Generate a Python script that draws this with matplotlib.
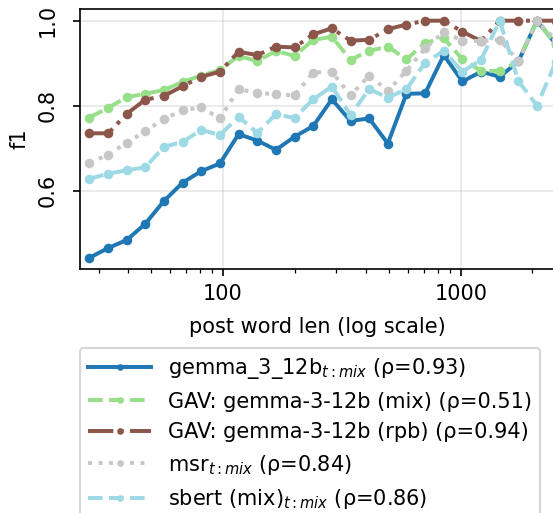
import matplotlib
matplotlib.use("Agg")
import matplotlib.pyplot as plt
from matplotlib.ticker import FuncFormatter, NullFormatter

# ---- data ----
word_len = [27.4, 32.9, 39.4, 47.1, 56.5, 67.7, 81.1, 97.1, 116.3, 139.4, 167.0, 200.0,
            239.6, 287.1, 343.9, 412.0, 493.6, 591.3, 708.4, 848.7, 1016.7, 1218, 1459,
            1748, 2094, 2509]

gemma = [0.442, 0.465, 0.484, 0.522, 0.576, 0.619, 0.646, 0.664, 0.733, 0.718, 0.696, 0.727,
         0.752, 0.815, 0.764, 0.770, 0.711, 0.828, 0.829, 0.919, 0.857, 0.880, 0.868, 0.904,
         1.0, 0.945]
gav_mix = [0.772, 0.795, 0.820, 0.828, 0.837, 0.856, 0.871, 0.884, 0.917, 0.905, 0.929, 0.917,
           0.955, 0.962, 0.908, 0.929, 0.939, 0.909, 0.948, 0.959, 0.909, 0.882, 0.882, 0.904,
           1.0, 0.945]
gav_rpb = [0.735, 0.735, 0.781, 0.814, 0.823, 0.846, 0.868, 0.880, 0.927, 0.919, 0.939, 0.937,
           0.968, 0.982, 0.953, 0.955, 0.980, 0.991, 1.0, 1.0, 0.974, 0.952, 1.0, 1.0, 1.0, 1.0]
msr = [0.665, 0.685, 0.713, 0.740, 0.769, 0.789, 0.796, 0.770, 0.839, 0.830, 0.827, 0.824,
       0.878, 0.880, 0.824, 0.871, 0.835, 0.882, 0.935, 0.973, 0.953, 0.952, 0.955, 0.905,
       1.0, 0.955]
sbert = [0.628, 0.640, 0.648, 0.655, 0.703, 0.715, 0.743, 0.731, 0.774, 0.736, 0.780, 0.771,
         0.815, 0.845, 0.778, 0.839, 0.819, 0.839, 0.901, 0.929, 0.880, 0.908, 1.0, 0.858,
         0.800, 0.903]

labels = [
    r"gemma_3_12b$_{t:mix}$ (ρ=0.93)",
    "GAV: gemma-3-12b (mix) (ρ=0.51)",
    "GAV: gemma-3-12b (rpb) (ρ=0.94)",
    r"msr$_{t:mix}$ (ρ=0.84)",
    r"sbert (mix)$_{t:mix}$ (ρ=0.86)",
]
series = [gemma, gav_mix, gav_rpb, msr, sbert]
colors = ["#1f77b4", "#98df8a", "#8c564b", "#c7c7c7", "#9edae5"]
styles = ["-", "--", "-.", ":", "--"]

yticks = [0.6, 0.8, 1.0]

# ---- figure ----
W, H, DPI = 553, 513, 150
fig = plt.figure(figsize=(W / DPI, H / DPI), dpi=DPI)
left_px, right_px, top_px, bot_px = 79.5, 554.5, 9.0, 269.3
ax = fig.add_axes([left_px / W, 1 - bot_px / H, (right_px - left_px) / W, (bot_px - top_px) / H])

for y, lab, c, ls in zip(series, labels, colors, styles):
    ax.plot(word_len, y, linestyle=ls, color=c, marker="o", markersize=3.6, linewidth=1.9, label=lab)

ax.set_xscale("log")
ax.set_xlim(24.92, 2480)
ax.xaxis.set_major_formatter(FuncFormatter(lambda v, p: f"{v:g}"))
ax.xaxis.set_minor_formatter(NullFormatter())
ax.set_ylim(0.415, 1.0275)
ax.set_yticks(yticks)
ax.set_yticklabels([f"{v:.1f}" for v in yticks], rotation=90, va="center")
ax.tick_params(axis="y", pad=7.0)
ax.grid(True, which="major", alpha=0.3)
ax.set_xlabel("post word len (log scale)", labelpad=6.5)
ax.set_ylabel("f1")

handles, labs = ax.get_legend_handles_labels()
fig.legend(handles, labs, loc="upper left", bbox_to_anchor=(80 / W, 1 - 348 / H),
           bbox_transform=fig.transFigure, borderaxespad=0, handlelength=3.0,
           markerscale=0.6)

fig.savefig("out.png", dpi=DPI)
